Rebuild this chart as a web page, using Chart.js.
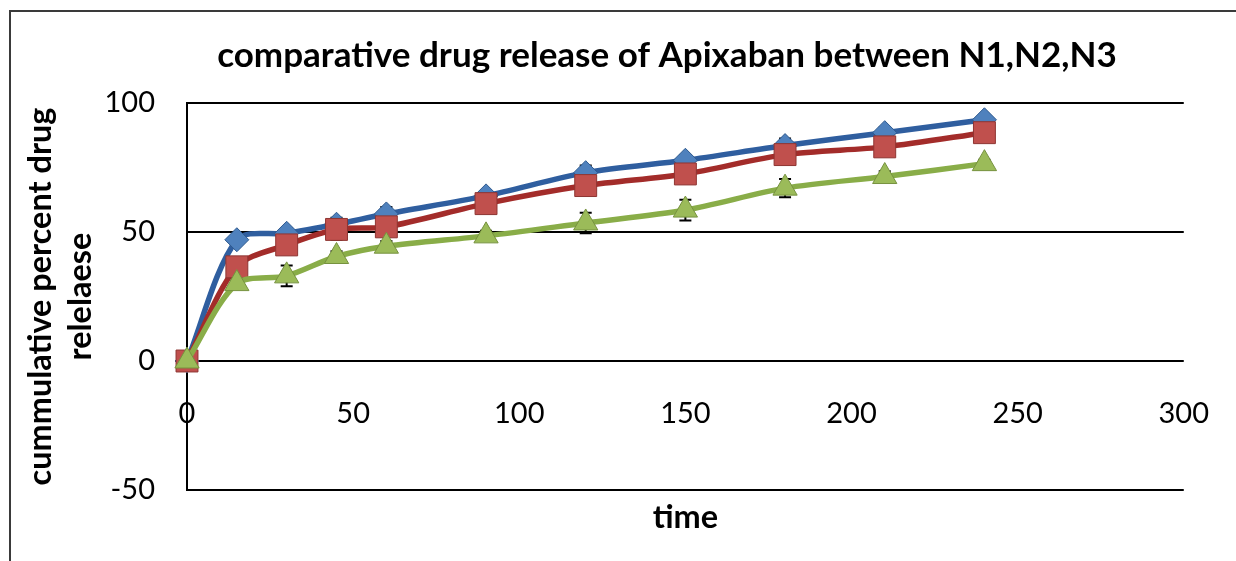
<!DOCTYPE html>
<html>
<head>
<meta charset="utf-8">
<script src="https://cdn.jsdelivr.net/npm/chart.js@4.4.1/dist/chart.umd.min.js"></script>
<style>
  html, body { margin: 0; padding: 0; background: #ffffff; }
  #wrap { width: 1236px; height: 561px; position: relative; }
  canvas { display: block; }
</style>
</head>
<body>
<div id="wrap"><canvas id="release" width="1236" height="561"></canvas></div>
<script>
// Sampling times (min)
const timeMin = [0, 15, 30, 45, 60, 90, 120, 150, 180, 210, 240];

// Cumulative percent drug released per formulation
const releaseN1 = [0, 47, 49.5, 53, 57, 64, 73, 77.8, 83.5, 88.5, 93.5];
const releaseN2 = [0, 36.5, 45, 51, 52, 61, 68, 72.5, 80, 83, 88.5];
const releaseN3 = [0, 30, 33, 40.5, 44.5, 48.5, 53.5, 58.5, 67, 71.5, 76.5];

// Standard deviations (error bars)
const sdN1 = [0, 1.5, 2, 2.5, 2.7, 2, 2.8, 2, 2.7, 2, 1.5];
const sdN2 = [0, 2, 2, 4, 2, 2, 2, 2, 2, 2, 2];
const sdN3 = [0, 2, 4, 2, 2, 2, 4, 4, 3.5, 2, 1.5];

const seriesNames = ['N1', 'N2', 'N3'];

// Axis ranges and tick steps
const xRange = [0, 300];
const xStep = 50;
const yRange = [-50, 100];
const yStep = 50;

const chartTitle = 'comparative drug release of Apixaban between N1,N2,N3';
const yTitleLines = ['cummulative percent drug', 'relelaese'];
const xTitle = 'time';

const FONT = 'Lato, "Open Sans", "DejaVu Sans", sans-serif';

// size a font so that a string spans a given width
function fitSize(text, width, weight) {
  const c = document.createElement('canvas').getContext('2d');
  c.font = weight + ' 100px ' + FONT;
  return 100 * width / c.measureText(text).width;
}

const titleSize = fitSize(chartTitle, 900, 'bold');
const axisTitleSize = fitSize(yTitleLines[0], 378, 'bold');
const tickSize = 29;

const toPoints = vals => timeMin.map((t, i) => ({ x: t, y: vals[i] }));
const sdSets = [sdN1, sdN2, sdN3];

// Outer frame and white background
const framePlugin = {
  id: 'frame',
  beforeDraw(chart) {
    const { ctx, width, height } = chart;
    ctx.save();
    ctx.fillStyle = '#ffffff';
    ctx.fillRect(0, 0, width, height);
    ctx.strokeStyle = '#3a3a3a';
    ctx.lineWidth = 2;
    ctx.beginPath();
    ctx.moveTo(10, height);
    ctx.lineTo(10, 11);
    ctx.lineTo(width, 11);
    ctx.stroke();
    ctx.restore();
  }
};

// Vertical error bars with caps, drawn beneath the series
const errorBarPlugin = {
  id: 'errorBars',
  beforeDatasetsDraw(chart) {
    const { ctx, scales: { x, y } } = chart;
    ctx.save();
    ctx.strokeStyle = '#000000';
    ctx.lineWidth = 2;
    chart.data.datasets.forEach((ds, d) => {
      const sd = sdSets[d];
      ds.data.forEach((p, i) => {
        if (!sd[i]) return;
        const px = x.getPixelForValue(p.x);
        const top = y.getPixelForValue(p.y + sd[i]);
        const bot = y.getPixelForValue(p.y - sd[i]);
        ctx.beginPath();
        ctx.moveTo(px, top); ctx.lineTo(px, bot);
        ctx.moveTo(px - 6, top); ctx.lineTo(px + 6, top);
        ctx.moveTo(px - 6, bot); ctx.lineTo(px + 6, bot);
        ctx.stroke();
      });
    });
    ctx.restore();
  }
};

// Chart title and axis titles
const titlesPlugin = {
  id: 'titles',
  afterDraw(chart) {
    const { ctx, chartArea } = chart;
    ctx.save();
    ctx.fillStyle = '#000000';
    ctx.textAlign = 'center';
    ctx.textBaseline = 'middle';

    ctx.font = 'bold ' + titleSize + 'px ' + FONT;
    ctx.fillText(chartTitle, 667, 56);

    ctx.font = 'bold ' + axisTitleSize + 'px ' + FONT;
    ctx.fillText(xTitle, (chartArea.left + chartArea.right) / 2, 518);
    const midY = (chartArea.top + chartArea.bottom) / 2;
    const lineX = [41, 81];
    yTitleLines.forEach((line, i) => {
      ctx.save();
      ctx.translate(lineX[i], midY);
      ctx.rotate(-Math.PI / 2);
      ctx.fillText(line, 0, 0);
      ctx.restore();
    });
    ctx.restore();
  }
};

const lineStyles = [
  { line: '#2f5e9f', fill: '#4f81bd', edge: '#2f5a8f', shape: 'rectRot', r: 12, order: 3 },
  { line: '#a32c2a', fill: '#c0504d', edge: '#8e3532', shape: 'rect', r: 15.5, order: 2 },
  { line: '#89ad48', fill: '#9bbb59', edge: '#76923f', shape: 'triangle', r: 14, order: 1 }
];

const seriesValues = [releaseN1, releaseN2, releaseN3];

new Chart(document.getElementById('release'), {
  type: 'line',
  data: {
    datasets: seriesValues.map((vals, k) => ({
      label: seriesNames[k],
      data: toPoints(vals),
      order: lineStyles[k].order,
      borderColor: lineStyles[k].line,
      borderWidth: 5.5,
      borderCapStyle: 'round',
      borderJoinStyle: 'round',
      tension: 0.3,
      fill: false,
      clip: false,
      pointStyle: lineStyles[k].shape,
      pointRadius: lineStyles[k].r,
      pointHoverRadius: lineStyles[k].r,
      pointBackgroundColor: lineStyles[k].fill,
      pointBorderColor: lineStyles[k].edge,
      pointBorderWidth: 1
    }))
  },
  options: {
    responsive: false,
    animation: false,
    devicePixelRatio: 1,
    layout: { padding: { left: 0, right: 50, top: 103, bottom: 71 } },
    plugins: {
      legend: { display: false },
      tooltip: { enabled: false },
      title: { display: false }
    },
    scales: {
      x: {
        type: 'linear',
        position: { y: 0 },
        min: xRange[0],
        max: xRange[1],
        ticks: {
          stepSize: xStep,
          padding: 27,
          color: '#000000',
          font: { family: FONT, size: tickSize }
        },
        grid: { display: false },
        border: { display: false }
      },
      y: {
        type: 'linear',
        position: 'left',
        min: yRange[0],
        max: yRange[1],
        ticks: {
          stepSize: yStep,
          padding: 32,
          color: '#000000',
          font: { family: FONT, size: tickSize }
        },
        grid: { color: '#000000', lineWidth: 2, drawTicks: false },
        border: { display: true, color: '#000000', width: 2 },
        afterFit(scale) { scale.width = 187; }
      }
    }
  },
  plugins: [framePlugin, errorBarPlugin, titlesPlugin]
});
</script>
</body>
</html>
